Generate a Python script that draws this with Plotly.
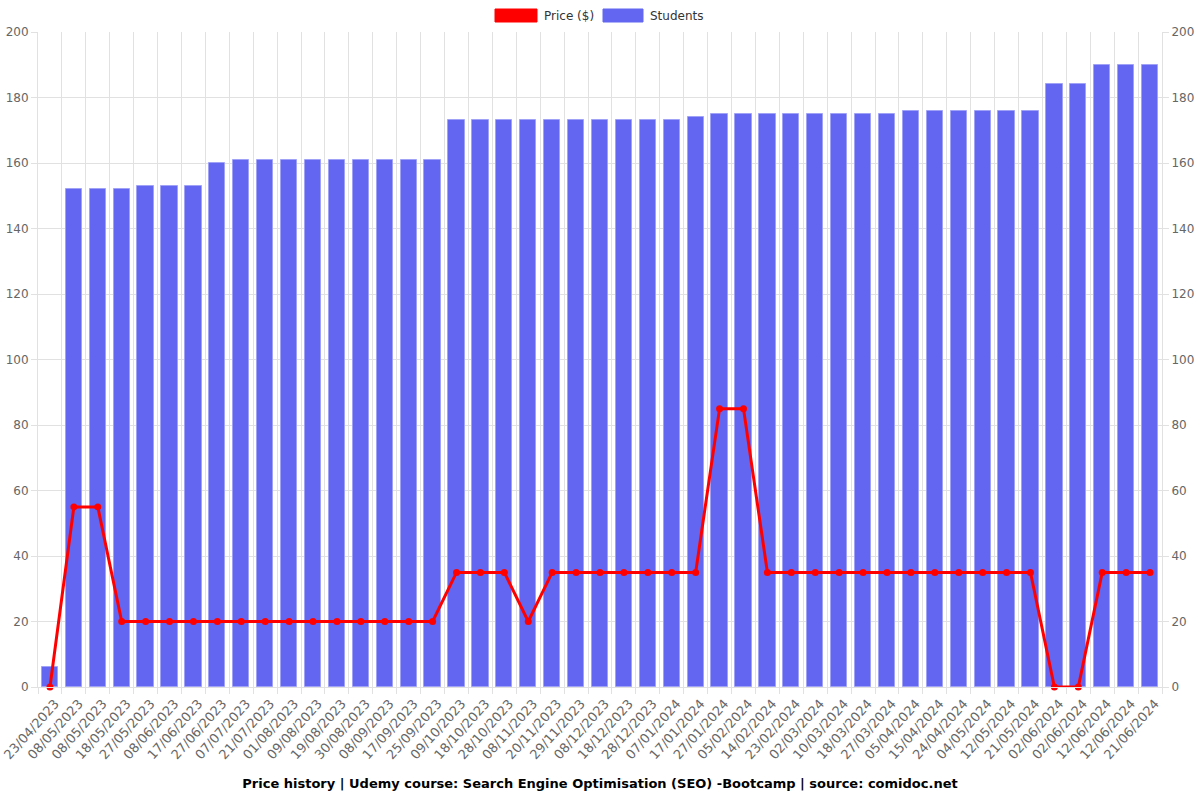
import plotly.graph_objects as go

dates = ["23/04/2023", "08/05/2023", "08/05/2023", "18/05/2023", "27/05/2023", "08/06/2023",
         "17/06/2023", "27/06/2023", "07/07/2023", "21/07/2023", "01/08/2023", "09/08/2023",
         "19/08/2023", "30/08/2023", "08/09/2023", "17/09/2023", "25/09/2023", "09/10/2023",
         "18/10/2023", "28/10/2023", "08/11/2023", "20/11/2023", "29/11/2023", "08/12/2023",
         "18/12/2023", "28/12/2023", "07/01/2024", "17/01/2024", "27/01/2024", "05/02/2024",
         "14/02/2024", "23/02/2024", "02/03/2024", "10/03/2024", "18/03/2024", "27/03/2024",
         "05/04/2024", "15/04/2024", "24/04/2024", "04/05/2024", "12/05/2024", "21/05/2024",
         "02/06/2024", "02/06/2024", "12/06/2024", "12/06/2024", "21/06/2024"]

students = [6, 152, 152, 152, 153, 153, 153, 160, 161, 161, 161, 161, 161, 161, 161, 161, 161,
            173, 173, 173, 173, 173, 173, 173, 173, 173, 173, 174, 175, 175, 175, 175, 175, 175,
            175, 175, 176, 176, 176, 176, 176, 176, 184, 184, 190, 190, 190]

price = [0, 55, 55, 20, 20, 20, 20, 20, 20, 20, 20, 20, 20, 20, 20, 20, 20,
         35, 35, 35, 20, 35, 35, 35, 35, 35, 35, 35, 85, 85, 35, 35, 35, 35,
         35, 35, 35, 35, 35, 35, 35, 35, 0, 0, 35, 35, 35]

y_ticks = list(range(0, 201, 20))
title_text = "Price history | Udemy course: Search Engine Optimisation (SEO) -Bootcamp | source: comidoc.net"

pos = list(range(1, len(dates) + 1))
BLUE = "#6366F1"
RED = "#FF0000"
GRID = "#E1E1E1"
FONT = "DejaVu Sans"

fig = go.Figure()
fig.add_trace(go.Bar(
    x=pos, y=students, name="Students", width=0.68,
    marker=dict(color=BLUE, line=dict(color="rgba(160,162,248,1)", width=1)),
    yaxis="y", showlegend=False,
))
fig.add_trace(go.Scatter(
    x=pos, y=price, name="Price ($)", mode="lines+markers",
    line=dict(color=RED, width=3), marker=dict(color=RED, size=7),
    yaxis="y2", cliponaxis=False, showlegend=False,
))

tick_font = dict(family=FONT, size=12, color="#666666")
xtick_font = dict(family=FONT, size=13, color="#666666")

fig.update_layout(
    width=1200, height=800,
    margin=dict(l=38, r=38, t=32, b=113, autoexpand=False),
    paper_bgcolor="white", plot_bgcolor="white",
    font=dict(family=FONT, size=12, color="#666666"),
    bargap=0,
    xaxis=dict(
        range=[0.5, len(dates) + 0.5], automargin=False, ticklabeloverflow="allow",
        ticklabelshift=5, ticklabelstandoff=3,
        tickmode="array", tickvals=pos, ticktext=dates, tickangle=-48,
        tickfont=xtick_font, showgrid=False, ticks="", zeroline=False,
        showline=True, linecolor=GRID, linewidth=1,
        minor=dict(tickmode="linear", tick0=0.5, dtick=1, showgrid=True,
                   gridcolor=GRID, gridwidth=1, ticks="outside", ticklen=6,
                   tickcolor=GRID),
    ),
    yaxis=dict(
        range=[0, 200], tickmode="array", tickvals=y_ticks, automargin=False,
        tickfont=tick_font, showgrid=True, gridcolor=GRID, gridwidth=1,
        ticks="outside", ticklen=6, tickcolor=GRID, zeroline=False,
        showline=True, linecolor=GRID,
    ),
    yaxis2=dict(
        range=[0, 200], tickmode="array", tickvals=y_ticks, overlaying="y", side="right",
        automargin=False,
        tickfont=tick_font, showgrid=False, ticks="outside", ticklen=6, tickcolor=GRID,
        zeroline=False, showline=True, linecolor=GRID,
    ),
    title=dict(text="<b>" + title_text + "</b>", x=0.5, xanchor="center",
               y=1 - 783 / 800, yref="container", yanchor="middle",
               font=dict(family=FONT, size=13, color="#000000")),
)

# Legend drawn as boxes + labels at top centre (pixel -> paper conversion)
def px_x(px):
    return (px - 38) / 1124

def px_y(py):
    return (687 - py) / 655

legend_items = [("Price ($)", RED, 495, 537), ("Students", BLUE, 603, 643)]
for label, color, x0, x1 in legend_items:
    fig.add_shape(type="rect", xref="paper", yref="paper",
                  x0=px_x(x0), x1=px_x(x1), y0=px_y(22), y1=px_y(9),
                  fillcolor=color, line=dict(color=color, width=1))
    fig.add_annotation(xref="paper", yref="paper", x=px_x(x1 + 5), y=px_y(16),
                       text=label, showarrow=False, xanchor="left", yanchor="middle",
                       font=dict(family=FONT, size=12, color="#333333"))

fig.write_html("out.html")
